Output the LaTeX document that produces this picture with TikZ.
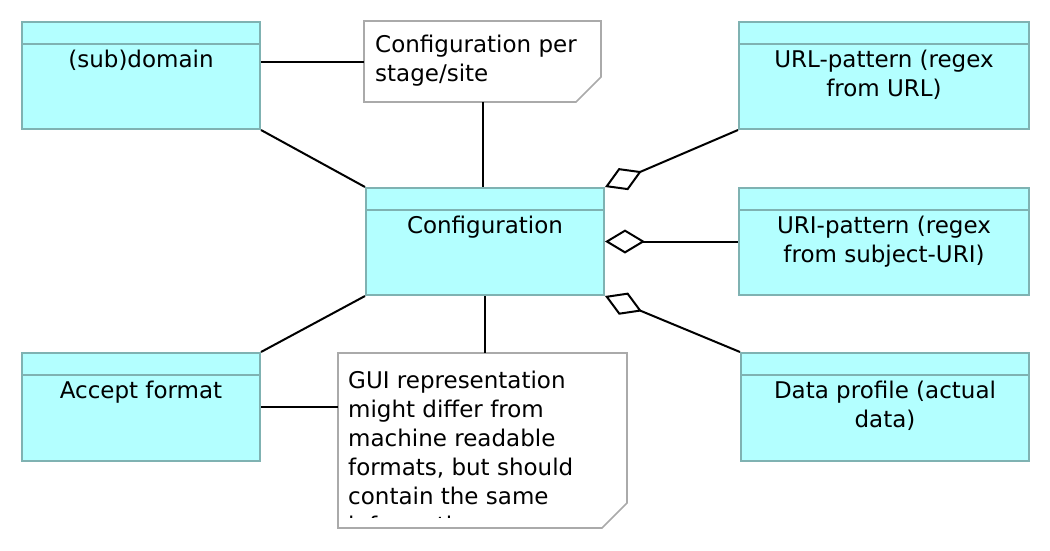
\documentclass[tikz,border=0pt]{standalone}
\usepackage{fontspec}
\setmainfont{DejaVu Sans}
\usetikzlibrary{arrows.meta}
\definecolor{boxfill}{RGB}{179,255,255}
\definecolor{boxline}{RGB}{127,178,178}
\definecolor{noteline}{RGB}{170,170,170}
\newcommand\umlclass[6]{%
  \node[classbox, minimum width=#4pt, minimum height=#5pt] (#1) at (#2,#3) {};
  \draw[boxline, line width=2pt] ([yshift=-23pt]#1.north west) -- ([yshift=-23pt]#1.north east);
  \node[txt] (#1-label) at ([yshift=-29pt]#1.north) {#6};
}
\begin{document}
\begin{tikzpicture}[x=1pt,y=-1pt,
  classbox/.style={draw=boxline, fill=boxfill, line width=2pt, inner sep=0pt, outer sep=1pt, anchor=north west},
  notebox/.style={inner sep=0pt, outer sep=0pt, anchor=north west},
  noteshape/.style={draw=noteline, fill=white, line width=1.6pt},
  txt/.style={font=\fontsize{23}{29}\selectfont, inner sep=0pt, align=center, anchor=north},
  ntxt/.style={font=\fontsize{23}{29}\selectfont, inner sep=0pt, align=left, anchor=north west},
  conn/.style={line width=2pt, black},
  agg/.style={conn, {Diamond[open, length=40pt, width=24pt, line width=2pt]}-},
]
\useasboundingbox (0,0) rectangle (1050,550);

\umlclass{sub}{21}{21}{238}{107}{(sub)domain}
\umlclass{url}{738}{21}{290}{107}{URL-pattern (regex\\from URL)}
\umlclass{config}{365}{187}{238}{107}{Configuration}
\umlclass{uri}{738}{187}{290}{107}{URI-pattern (regex\\from subject-URI)}
\umlclass{data}{740}{352}{288}{108}{Data profile (actual\\data)}
\umlclass{accept}{21}{352}{238}{108}{Accept format}

\node[notebox, minimum width=237pt, minimum height=81pt] (stage) at (364,21) {};
\draw[noteshape] (stage.north west) -- (stage.north east) -- ([yshift=25pt]stage.south east)
  -- ([xshift=-25pt]stage.south east) -- (stage.south west) -- cycle;
\node[ntxt] (stage-label) at (375,35) {Configuration per\\stage/site};

\node[notebox, minimum width=289pt, minimum height=175pt] (gui) at (338,353) {};
\draw[noteshape] (gui.north west) -- (gui.north east) -- ([yshift=25pt]gui.south east)
  -- ([xshift=-25pt]gui.south east) -- (gui.south west) -- cycle;
\begin{scope}
  \clip (gui.north west) rectangle (627,517);
  \node[ntxt] (gui-label) at (348,371) {GUI representation\\might differ from\\machine readable\\formats, but should\\contain the same\\information};
\end{scope}

\draw[conn] (sub.east |- stage.west) -- (stage.west);
\draw[conn] (sub.south east) -- (config.north west);
\draw[conn] (stage.south) -- (stage.south |- config.north);
\draw[agg] (config.north east) -- (url.south west);
\draw[agg] (config.east) -- (uri.west);
\draw[agg] (config.south east) -- (data.north west);
\draw[conn] (config.south west) -- (accept.north east);
\draw[conn] (config.south) -- (config.south |- gui.north);
\draw[conn] (accept.east) -- (accept.east -| gui.west);
\end{tikzpicture}
\end{document}
